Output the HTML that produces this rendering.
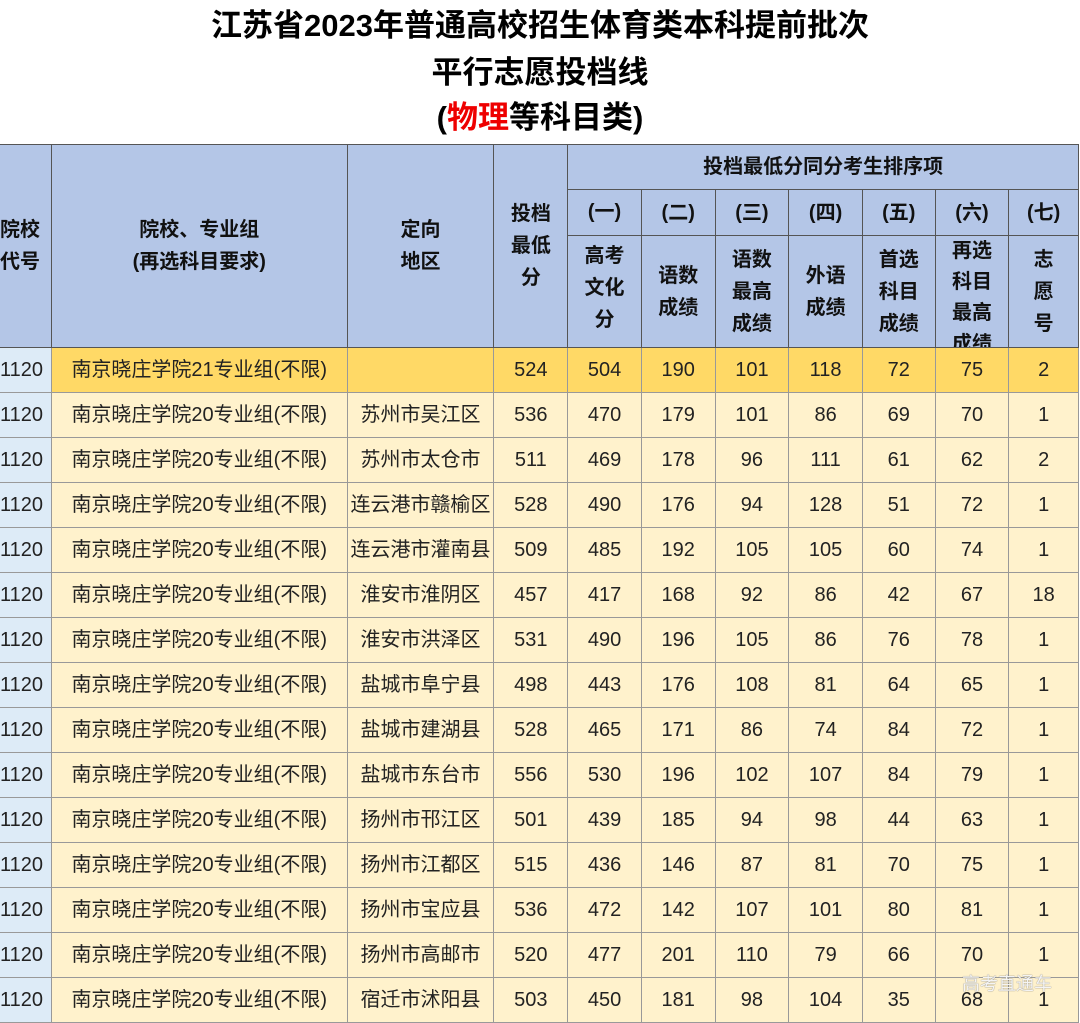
<!DOCTYPE html>
<html><head><meta charset="utf-8"><style>
body{margin:0;width:1080px;height:1022px;overflow:hidden;background:#fff;font-family:"Liberation Sans","Noto Sans CJK SC",sans-serif;position:relative}
.t{position:absolute;left:0;width:1080px;text-align:center;font-weight:bold;font-size:31px;color:#000;line-height:40px}
table{position:absolute;left:-1px;top:144px;border-collapse:collapse;table-layout:fixed}
td{border:1px solid #555;text-align:center;padding:0;font-size:20px;color:#222;overflow:hidden;white-space:nowrap}
.h td{background:#b4c6e7;font-weight:bold;font-size:20px;line-height:32px;color:#111}
.h div{overflow:hidden}
.d td{height:44px;line-height:44px;background:#fff2cc;border-color:#999}
.d td:first-child{background:#ddebf7;text-align:left}
.y td{background:#ffd966}
.wm{position:absolute;right:28px;top:970px;color:#f4f4f4;font-size:18px;text-shadow:0 0 1px #555}
</style></head><body>
<div class="t" style="top:6px">江苏省2023年普通高校招生体育类本科提前批次</div>
<div class="t" style="top:53px">平行志愿投档线</div>
<div class="t" style="top:98px">(<span style="color:#e00">物理</span>等科目类)</div>
<table>
<colgroup><col style="width:52px"><col style="width:296px"><col style="width:147px"><col style="width:74px"><col style="width:74px"><col style="width:74px"><col style="width:74px"><col style="width:74px"><col style="width:73px"><col style="width:74px"><col style="width:70px"></colgroup>
<tr class="h"><td rowspan="3" style="text-align:left">院校<br>代号</td><td rowspan="3">院校、专业组<br>(再选科目要求)</td><td rowspan="3">定向<br>地区</td><td rowspan="3">投档<br>最低<br>分</td><td colspan="7"><div style="height:44px;line-height:44px">投档最低分同分考生排序项</div></td></tr>
<tr class="h"><td><div style="height:45px;line-height:45px">(一)</div></td><td>(二)</td><td>(三)</td><td>(四)</td><td>(五)</td><td>(六)</td><td>(七)</td></tr>
<tr class="h"><td><div style="height:111px;padding-top:4px;box-sizing:border-box">高考<br>文化<br>分</div></td><td>语数<br>成绩</td><td>语数<br>最高<br>成绩</td><td>外语<br>成绩</td><td>首选<br>科目<br>成绩</td><td style="vertical-align:top"><div style="height:111px;line-height:31px">再选<br>科目<br>最高<br>成绩</div></td><td>志<br>愿<br>号</td></tr>
<tr class="d y"><td>1120</td><td>南京晓庄学院21专业组(不限)</td><td></td><td>524</td><td>504</td><td>190</td><td>101</td><td>118</td><td>72</td><td>75</td><td>2</td></tr>
<tr class="d"><td>1120</td><td>南京晓庄学院20专业组(不限)</td><td>苏州市吴江区</td><td>536</td><td>470</td><td>179</td><td>101</td><td>86</td><td>69</td><td>70</td><td>1</td></tr>
<tr class="d"><td>1120</td><td>南京晓庄学院20专业组(不限)</td><td>苏州市太仓市</td><td>511</td><td>469</td><td>178</td><td>96</td><td>111</td><td>61</td><td>62</td><td>2</td></tr>
<tr class="d"><td>1120</td><td>南京晓庄学院20专业组(不限)</td><td>连云港市赣榆区</td><td>528</td><td>490</td><td>176</td><td>94</td><td>128</td><td>51</td><td>72</td><td>1</td></tr>
<tr class="d"><td>1120</td><td>南京晓庄学院20专业组(不限)</td><td>连云港市灌南县</td><td>509</td><td>485</td><td>192</td><td>105</td><td>105</td><td>60</td><td>74</td><td>1</td></tr>
<tr class="d"><td>1120</td><td>南京晓庄学院20专业组(不限)</td><td>淮安市淮阴区</td><td>457</td><td>417</td><td>168</td><td>92</td><td>86</td><td>42</td><td>67</td><td>18</td></tr>
<tr class="d"><td>1120</td><td>南京晓庄学院20专业组(不限)</td><td>淮安市洪泽区</td><td>531</td><td>490</td><td>196</td><td>105</td><td>86</td><td>76</td><td>78</td><td>1</td></tr>
<tr class="d"><td>1120</td><td>南京晓庄学院20专业组(不限)</td><td>盐城市阜宁县</td><td>498</td><td>443</td><td>176</td><td>108</td><td>81</td><td>64</td><td>65</td><td>1</td></tr>
<tr class="d"><td>1120</td><td>南京晓庄学院20专业组(不限)</td><td>盐城市建湖县</td><td>528</td><td>465</td><td>171</td><td>86</td><td>74</td><td>84</td><td>72</td><td>1</td></tr>
<tr class="d"><td>1120</td><td>南京晓庄学院20专业组(不限)</td><td>盐城市东台市</td><td>556</td><td>530</td><td>196</td><td>102</td><td>107</td><td>84</td><td>79</td><td>1</td></tr>
<tr class="d"><td>1120</td><td>南京晓庄学院20专业组(不限)</td><td>扬州市邗江区</td><td>501</td><td>439</td><td>185</td><td>94</td><td>98</td><td>44</td><td>63</td><td>1</td></tr>
<tr class="d"><td>1120</td><td>南京晓庄学院20专业组(不限)</td><td>扬州市江都区</td><td>515</td><td>436</td><td>146</td><td>87</td><td>81</td><td>70</td><td>75</td><td>1</td></tr>
<tr class="d"><td>1120</td><td>南京晓庄学院20专业组(不限)</td><td>扬州市宝应县</td><td>536</td><td>472</td><td>142</td><td>107</td><td>101</td><td>80</td><td>81</td><td>1</td></tr>
<tr class="d"><td>1120</td><td>南京晓庄学院20专业组(不限)</td><td>扬州市高邮市</td><td>520</td><td>477</td><td>201</td><td>110</td><td>79</td><td>66</td><td>70</td><td>1</td></tr>
<tr class="d"><td>1120</td><td>南京晓庄学院20专业组(不限)</td><td>宿迁市沭阳县</td><td>503</td><td>450</td><td>181</td><td>98</td><td>104</td><td>35</td><td>68</td><td>1</td></tr>
</table>
<div class="wm">高考直通车</div>
</body></html>
